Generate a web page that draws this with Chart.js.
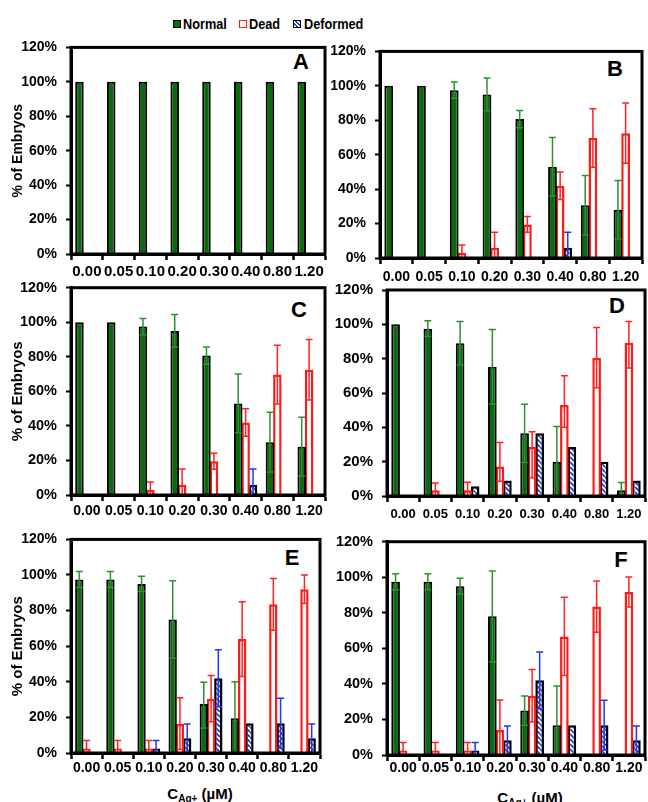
<!DOCTYPE html>
<html>
<head>
<meta charset="utf-8">
<script src="https://cdn.jsdelivr.net/npm/chart.js@4.4.0/dist/chart.umd.min.js"></script>
<style>
  body { margin:0; background:#fff; width:648px; height:802px; position:relative; overflow:hidden;
         font-family:"Liberation Sans", Arial, sans-serif; color:#000; }
  canvas { position:absolute; }
  .letter { position:absolute; font:bold 22px "Liberation Sans", Arial, sans-serif; transform:translate(-50%,-50%); }
  .leg { position:absolute; top:15px; font:bold 15.5px "Liberation Sans", Arial, sans-serif; transform:scaleX(0.82); transform-origin:left center; white-space:nowrap; }
  .box { position:absolute; top:20px; width:6px; height:6px; }
  .xtitle { position:absolute; font:bold 15px "Liberation Sans", Arial, sans-serif; transform:translate(-50%,-50%); white-space:nowrap; }
  .xtitle sub { font-size:10px; vertical-align:-3px; }
</style>
</head>
<body>

<div class="box" style="left:173px; background:#0b6a0b; border:1px solid #000;"></div>
<div class="leg" style="left:183px;">Normal</div>
<div class="box" style="left:239px; background:#fff; border:1.5px solid #ff1a1a;"></div>
<div class="leg" style="left:249px;">Dead</div>
<div class="box" style="left:293px; border:1.5px solid #000; background:repeating-linear-gradient(45deg,#fff 0 1.5px,#1e3cd6 1.5px 3px);"></div>
<div class="leg" style="left:304px;">Deformed</div>

<div class="letter" style="left:301px; top:62px;">A</div>
<div class="letter" style="left:615px; top:69px;">B</div>
<div class="letter" style="left:299px; top:310px;">C</div>
<div class="letter" style="left:617px; top:306px;">D</div>
<div class="letter" style="left:292px; top:558px;">E</div>
<div class="letter" style="left:621px; top:560px;">F</div>

<div class="xtitle" style="left:200px; top:794px;">C<sub>Ag+</sub> (µM)</div>
<div class="xtitle" style="left:530px; top:798px;">C<sub>Ag+</sub> (µM)</div>

<script>
const categories = ['0.00', '0.05', '0.10', '0.20', '0.30', '0.40', '0.80', '1.20'];

// values in %, errors as +/- (or [plus, minus] where the bar is lopsided)
const normalA = [100, 100, 100, 100, 100, 100, 100, 100];
const deadA = [0, 0, 0, 0, 0, 0, 0, 0];
const deformedA = [0, 0, 0, 0, 0, 0, 0, 0];

const normalB = [100, 100, 97.5, 95, 80.7, 53, 30.6, 28];
const normalErrB = [0, 0, 4.7, 9.5, 5, 17, 17.3, 17];
const deadB = [0, 0, 3, 6, 19.5, 42, 69.7, 72.5];
const deadErrB = [0, 0, 4.5, 9, 4.6, 8, 17, 17.5];
const deformedB = [0, 0, 0, 0, 0, 6, 0, 0];
const deformedErrB = [0, 0, 0, 0, 0, 9, 0, 0];

const normalC = [100, 100, 97.5, 95, 80.7, 53, 30.6, 28];
const normalErrC = [0, 0, 4.7, 9.5, 5, 17, 17.3, 17];
const deadC = [0, 0, 3, 6, 19.5, 42, 69.7, 72.5];
const deadErrC = [0, 0, 4.5, 9, 4.6, 8, 17, 17.5];
const deformedC = [0, 0, 0, 0, 0, 6, 0, 0];
const deformedErrC = [0, 0, 0, 0, 0, 9, 0, 0];

const normalD = [100, 97.5, 89, 75.3, 36.5, 20, 0, 3.3];
const normalErrD = [0, 4.6, 12.7, 21.7, 17, 20.5, 0, 4.6];
const deadD = [0, 3.4, 3.4, 17.2, 28.5, 53, 80.6, 89.2];
const deadErrD = [0, 4.2, 4.6, [14, 8.6], [9, 17.8], [17, 13], 17.5, [12.5, 14.7]];
const deformedD = [0, 0, 5.7, 9, 36.5, 28.5, 20, 9];
const deformedErrD = [0, 0, 0, 0, 0, 0, 0, 0];

const normalE = [97.5, 97.5, 95, 75, 27.5, 19.5, 0, 0];
const normalErrE = [4.5, 4.5, 4.3, 21.7, [12.3, 13.5], 20.5, 0, 0];
const deadE = [2.5, 2.5, 2.5, 16.5, 30.5, 64, 83.5, 92];
const deadErrE = [4.5, 4.5, 4.5, 14.5, 13, 21, 14.5, 8];
const deformedE = [0, 0, 2.5, 8.3, 42, 16.7, 16.7, 8.3];
const deformedErrE = [0, 0, 4.5, 8, 16, 0, 14, 8];

const normalF = [97.5, 97.5, 95, 78, 25, 16.8, 0, 0];
const normalErrF = [4.5, 4.5, 4.5, 25.5, 8.2, 22, 0, 0];
const deadF = [2.5, 2.5, 2.5, 14, 33.3, 66.7, 83.5, 91.7];
const deadErrF = [4.5, 4.5, 4.5, 17, 14.8, 22, 14.4, 8.5];
const deformedF = [0, 0, 2.5, 8.3, 42, 16.8, 16.8, 8.3];
const deformedErrF = [0, 0, 4.5, 8, 16, 0, 14, 8];

const yTicks = [0, 20, 40, 60, 80, 100, 120];

const zeros = [0, 0, 0, 0, 0, 0, 0, 0];
const panels = [
  { id: 'A', left: 0, top: 30, w: 330, h: 262, yw: 71, pt: 15, pr: 5, xh: 38, xf: 15, yf: 14, xGap: 18, title: 14,
    normal: normalA, normalErr: zeros, dead: deadA, deadErr: zeros, deformed: deformedA, deformedErr: zeros },
  { id: 'B', left: 330, top: 34, w: 318, h: 262, yw: 50, pt: 15, pr: 6, xh: 38, xf: 14, yf: 14, xGap: 19,
    normal: normalB, normalErr: normalErrB, dead: deadB, deadErr: deadErrB, deformed: deformedB, deformedErr: deformedErrB },
  { id: 'C', left: 0, top: 270, w: 330, h: 262, yw: 71, pt: 15, pr: 5, xh: 37, xf: 14, yf: 14.5, xGap: 16, title: 15,
    normal: normalC, normalErr: normalErrC, dead: deadC, deadErr: deadErrC, deformed: deformedC, deformedErr: deformedErrC },
  { id: 'D', left: 330, top: 272, w: 318, h: 262, yw: 57, pt: 15, pr: 3, xh: 38, xf: 13, yf: 15, xGap: 18,
    normal: normalD, normalErr: normalErrD, dead: deadD, deadErr: deadErrD, deformed: deformedD, deformedErr: deformedErrD },
  { id: 'E', left: 0, top: 522, w: 330, h: 262, yw: 71, pt: 15, pr: 10, xh: 31, xf: 14, yf: 14, xGap: 15, title: 15,
    normal: normalE, normalErr: normalErrE, dead: deadE, deadErr: deadErrE, deformed: deformedE, deformedErr: deformedErrE },
  { id: 'F', left: 330, top: 524, w: 318, h: 262, yw: 57, pt: 15, pr: 3, xh: 31, xf: 14, yf: 14.5, xGap: 13,
    normal: normalF, normalErr: normalErrF, dead: deadF, deadErr: deadErrF, deformed: deformedF, deformedErr: deformedErrF },
];

function hatch() {
  const c = document.createElement('canvas');
  c.width = 5; c.height = 5;
  const g = c.getContext('2d');
  g.fillStyle = '#fff';
  g.fillRect(0, 0, 5, 5);
  g.strokeStyle = '#1e3cd6';
  g.lineWidth = 1.8;
  g.beginPath();
  for (let k = -1; k <= 1; k++) { g.moveTo(k * 5, 0); g.lineTo(k * 5 + 5, 5); }
  g.stroke();
  return g.createPattern(c, 'repeat');
}

const errorBars = {
  id: 'errorBars',
  afterDatasetsDraw(chart) {
    const ctx = chart.ctx, y = chart.scales.y;
    chart.data.datasets.forEach((ds, i) => {
      const meta = chart.getDatasetMeta(i);
      ctx.save();
      ctx.strokeStyle = ds.errColor;
      ctx.lineWidth = 1.5;
      meta.data.forEach((bar, j) => {
        const e = ds.errors[j], v = ds.data[j];
        if (!e || v == null) return;
        const up = Array.isArray(e) ? e[0] : e;
        const down = Array.isArray(e) ? e[1] : e;
        const top = y.getPixelForValue(v + up);
        const low = v - down;
        const bot = y.getPixelForValue(Math.max(low, 0));
        ctx.beginPath();
        ctx.moveTo(bar.x, top); ctx.lineTo(bar.x, bot);
        ctx.moveTo(bar.x - 3.5, top); ctx.lineTo(bar.x + 3.5, top);
        if (low > 0) { ctx.moveTo(bar.x - 3.5, bot); ctx.lineTo(bar.x + 3.5, bot); }
        ctx.stroke();
      });
      ctx.restore();
    });
  }
};

const frame = {
  id: 'frame',
  afterDraw(chart) {
    const { ctx, chartArea: a } = chart;
    ctx.save();
    ctx.strokeStyle = '#000';
    ctx.lineWidth = 3;
    ctx.strokeRect(a.left, a.top, a.right - a.left, a.bottom - a.top);
    ctx.restore();
  }
};

const font = (size) => ({ family: '"Liberation Sans", Arial, sans-serif', size: size, weight: 'bold' });

panels.forEach((p) => {
  const cv = document.createElement('canvas');
  cv.width = p.w; cv.height = p.h;
  cv.style.left = p.left + 'px';
  cv.style.top = p.top + 'px';
  document.body.appendChild(cv);

  new Chart(cv, {
    type: 'bar',
    data: {
      labels: categories,
      datasets: [
        { label: 'Normal', data: p.normal.map(v => v || null), errors: p.normalErr, errColor: '#2f8f2f',
          backgroundColor: '#0b6a0b', borderColor: '#000', borderWidth: 2 },
        { label: 'Dead', data: p.dead.map(v => v || null), errors: p.deadErr, errColor: '#ff2222',
          backgroundColor: '#fff', borderColor: '#ff1a1a', borderWidth: 2.5 },
        { label: 'Deformed', data: p.deformed.map(v => v || null), errors: p.deformedErr, errColor: '#2233ff',
          backgroundColor: hatch(), borderColor: '#000', borderWidth: 2.5 },
      ]
    },
    options: {
      responsive: false,
      animation: false,
      categoryPercentage: 0.7,
      barPercentage: 1.15,
      layout: { padding: { top: p.pt, right: p.pr, bottom: 0, left: 0 } },
      plugins: { legend: { display: false }, tooltip: { enabled: false } },
      scales: {
        x: {
          grid: { offset: true, drawOnChartArea: false, tickLength: 6, tickColor: '#000', tickWidth: 2.5 },
          border: { color: '#000', width: 3 },
          ticks: { autoSkip: false, maxRotation: 0, minRotation: 0, color: '#000', font: font(p.xf),
                   padding: p.xGap - 6 - p.xf * 0.6 },
          afterFit: (s) => { s.height = p.xh; }
        },
        y: {
          min: 0, max: 120,
          afterBuildTicks: (s) => { s.ticks = yTicks.map(v => ({ value: v })); },
          grid: { drawOnChartArea: false, tickLength: 5, tickColor: '#000', tickWidth: 2 },
          border: { color: '#000', width: 3 },
          ticks: { color: '#000', font: font(p.yf), padding: 9, callback: (v) => v + '%' },
          title: { display: !!p.title, text: '% of Embryos', color: '#000', font: font(p.title || 14),
                   padding: { top: 18 - (p.title || 14) * 0.6, bottom: 0 } },
          afterFit: (s) => { s.width = p.yw; }
        }
      }
    },
    plugins: [errorBars, frame]
  });
});
</script>
</body>
</html>
